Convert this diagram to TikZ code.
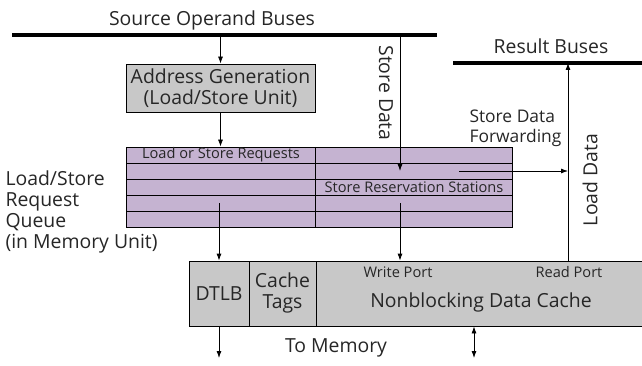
\documentclass[tikz,border=0pt]{standalone}
\usepackage{fontspec}
\setmainfont{Open Sans}
\usetikzlibrary{arrows.meta}
\definecolor{boxgray}{RGB}{200,200,200}
\definecolor{queuelilac}{RGB}{197,179,209}
\tikzset{
  bigtext/.style={font=\fontsize{19.4}{21}\selectfont, text=black!85},
  smalltext/.style={font=\fontsize{14.6}{16}\selectfont, text=black!85},
  bus/.style={line width=4pt},
  arr/.style={-{Latex[length=7pt,width=5pt]}, line width=0.8pt},
  arrs/.style={{Latex[length=7pt,width=5pt]}-{Latex[length=7pt,width=5pt]}, line width=0.8pt},
  unitbox/.style={draw, fill=boxgray, line width=0.8pt, inner sep=0pt},
}
\begin{document}
\begin{tikzpicture}[x=1pt,y=-1pt]
\useasboundingbox (0,0) rectangle (642,366);
% buses
\coordinate (srcL) at (12,35.5); \coordinate (srcR) at (437,35.5);
\coordinate (resL) at (453,63); \coordinate (resR) at (650,63);
\draw[bus] (srcL) -- (srcR);
\draw[bus] (resL) -- (resR);
\node[bigtext] (srclbl) at (212,20) {Source Operand Buses};
\node[bigtext] (reslbl) at (551,46) {Result Buses};
% address generation
\node[unitbox, bigtext, align=center, minimum width=189pt, minimum height=48pt] (agen) at (220.5,88) {Address Generation\\(Load/Store Unit)};
% request queue
\node[draw, fill=queuelilac, line width=0.8pt, inner sep=0pt, minimum width=386pt, minimum height=80pt] (lsq) at (319,187) {};
\foreach \y in {163,179,195,211} \draw[line width=0.8pt] (126,\y) -- (512,\y);
\draw[line width=0.8pt] (315,147) -- (315,227);
\node[smalltext] (ldreq) at (221,155) {Load or Store Requests};
\node[smalltext] (strs) at (414,187) {Store Reservation Stations};
\node[bigtext, align=left, anchor=west] (lsqlbl) at (2,212) {Load/Store\\Request\\Queue\\(in Memory Unit)};
% data cache
\node[unitbox, minimum width=461pt, minimum height=65pt] (cache) at (419.5,293.5) {};
\draw[line width=0.8pt] (249,261) -- (249,326);
\draw[line width=0.8pt] (316,261) -- (316,326);
\node[bigtext] (dtlb) at (219,294) {DTLB};
\node[bigtext, align=center] (ctags) at (282.5,293) {Cache\\Tags};
\node[smalltext] (wport) at (398,272) {Write Port};
\node[smalltext] (rport) at (569,272) {Read Port};
\node[bigtext] (cachelbl) at (481,302) {Nonblocking Data Cache};
\node[bigtext] (tomem) at (336,348) {To Memory};
% labels on the data paths
\node[bigtext, rotate=-90] (sdlbl) at (386,93) {Store Data};
\node[bigtext, rotate=90] (ldlbl) at (590,180) {Load Data};
\node[bigtext, font=\fontsize{17.4}{20}\selectfont, align=left, anchor=west] (fwdlbl) at (466,128) {Store Data\\Forwarding};
% connectors
\coordinate (sdin) at (400,171); \coordinate (fwd) at (459,171);
\coordinate (stout) at (400,203); \coordinate (ldout) at (219,203);
\coordinate (rdport) at (568,261);
\coordinate (memout) at (219,358); \coordinate (memio) at (474,358);
\draw[arr] (srcL -| agen.north) -- (agen.north);
\draw[arr] (agen.south) -- (agen.south |- lsq.north);
\draw[arr] (srcL -| sdin) -- (sdin);
\draw[arr] (fwd) -- (fwd -| rdport);
\draw[arr] (rdport) -- (rdport |- resL);
\draw[arr] (stout) -- (stout |- cache.north);
\draw[arr] (ldout) -- (ldout |- cache.north);
\draw[arr] (memout |- cache.south) -- (memout);
\draw[arrs] (memio |- cache.south) -- (memio);
\end{tikzpicture}
\end{document}
